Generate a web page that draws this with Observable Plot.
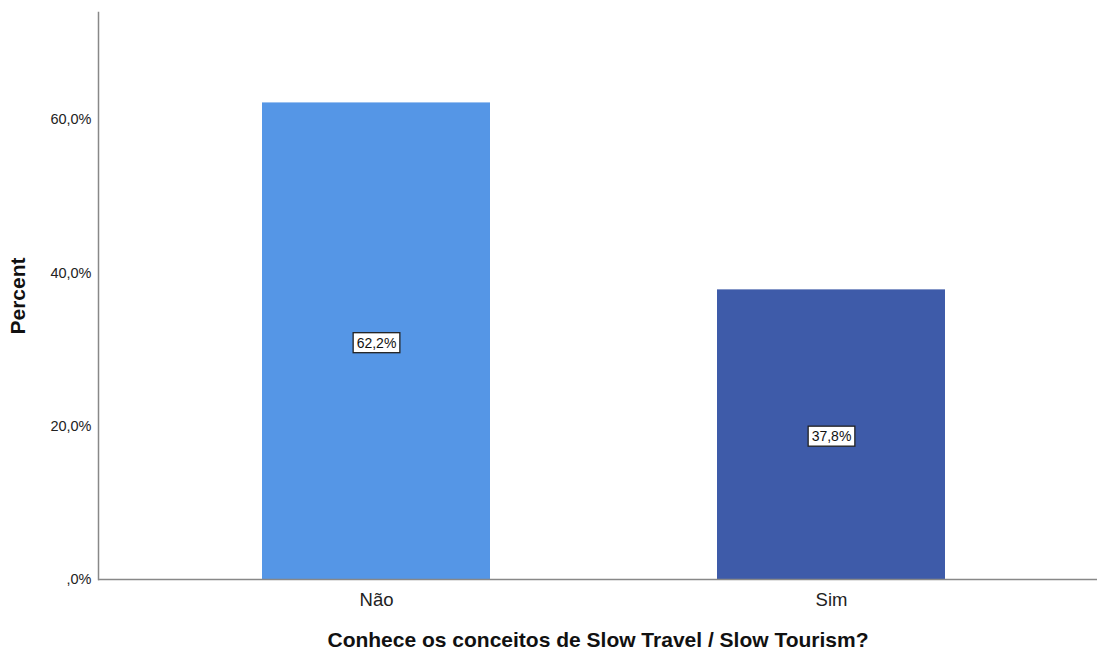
<!DOCTYPE html>
<html>
<head>
<meta charset="utf-8">
<script src="https://cdn.jsdelivr.net/npm/d3@7"></script>
<script src="https://cdn.jsdelivr.net/npm/@observablehq/plot@0.6"></script>
<style>
  body { margin: 0; background: #fff; }
  #chart svg { display: block; }
</style>
</head>
<body>
<div id="chart"></div>
<script>
const categories = ["Não", "Sim"];
const percents = [62.2, 37.8];
const barColors = ["#5596E6", "#3E5BA9"];
const yTicks = [0, 20, 40, 60];
const xTitle = "Conhece os conceitos de Slow Travel / Slow Tourism?";
const yTitle = "Percent";

const data = categories.map((c, i) => ({cat: c, value: percents[i]}));
const fmt = v => (v === 0 ? ",0" : v.toFixed(1).replace(".", ",")) + "%";
const font = "'Liberation Sans', Arial, sans-serif";

const chart = Plot.plot({
  width: 1097,
  height: 651,
  marginTop: 12,
  marginBottom: 72,
  marginLeft: 98,
  marginRight: 0,
  style: {fontFamily: font, background: "#fff", color: "#222"},
  x: {domain: categories, range: [148.5, 1058.5], paddingInner: 0.5, paddingOuter: 0.25},
  y: {domain: [0, 74]},
  color: {domain: categories, range: barColors},
  marks: [
    Plot.barY(data, {x: "cat", y: "value", fill: "cat"}),
    Plot.ruleY([0], {stroke: "#888", strokeWidth: 1.5}),
    Plot.frame({anchor: "left", stroke: "#888", strokeWidth: 1.5}),
    Plot.axisY({ticks: yTicks, tickFormat: fmt, tickSize: 0, tickPadding: 7, fontSize: 14.5, label: null, fill: "#222"}),
    Plot.axisX({tickSize: 0, tickPadding: 13, fontSize: 18.5, label: null, fill: "#222"}),
    Plot.text(data, {x: "cat", y: d => d.value / 2, dy: 2, text: d => fmt(d.value), fontSize: 14, fill: "#111"}),
    Plot.text([yTitle], {frameAnchor: "left", textAnchor: "middle", dx: -80, rotate: -90, fontSize: 21, fontWeight: "bold", fill: "#111"}),
    Plot.text([xTitle], {frameAnchor: "bottom", textAnchor: "middle", dy: 67, fontSize: 21, fontWeight: "bold", fill: "#111"})
  ]
});
document.getElementById("chart").appendChild(chart);

// white boxes with dark border behind the value labels
const labelSet = new Set(percents.map(fmt));
chart.querySelectorAll("text").forEach(t => {
  if (!labelSet.has(t.textContent.trim())) return;
  const b = t.getBBox();
  const r = document.createElementNS("http://www.w3.org/2000/svg", "rect");
  r.setAttribute("x", b.x - 3.5);
  r.setAttribute("y", b.y - 2);
  r.setAttribute("width", b.width + 7);
  r.setAttribute("height", b.height + 4);
  r.setAttribute("fill", "#fff");
  r.setAttribute("stroke", "#222");
  r.setAttribute("stroke-width", 1.3);
  if (t.getAttribute("transform")) r.setAttribute("transform", t.getAttribute("transform"));
  t.parentNode.insertBefore(r, t);
});
</script>
</body>
</html>
